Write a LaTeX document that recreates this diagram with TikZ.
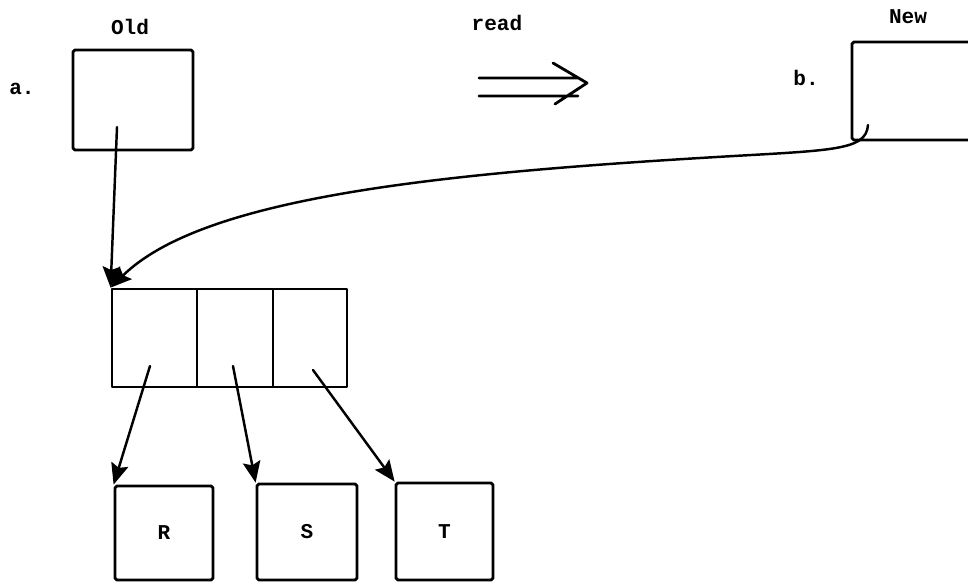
\documentclass[tikz,border=0pt]{standalone}
\usepackage{fontspec}
\setmonofont{Liberation Mono}
\usetikzlibrary{arrows.meta}
\begin{document}
\begin{tikzpicture}[x=0.02cm,y=-0.02cm,
  box/.style={draw,line width=1.6pt,inner sep=0pt,rounded corners=1pt},
  lbl/.style={font=\fontsize{12}{14}\selectfont\ttfamily\bfseries,inner sep=0pt},
  ptr/.style={line width=1.4pt,-{Stealth[length=12pt,width=10pt,inset=2pt]}},
  line join=round,line cap=round]
\useasboundingbox (0,0) rectangle (968,586);
\clip (0,0) rectangle (968,586);
% top boxes
\node[box,minimum width=2.4cm,minimum height=2.0cm] (old) at (133,100) {};
\node[box,minimum width=2.4cm,minimum height=1.96cm] (new) at (912,91) {};
\node[lbl] (oldl) at (130,27) {Old};
\node[lbl] (newl) at (908,17) {New};
\node[lbl] (al) at (22,89) {a.};
\node[lbl] (bl) at (806,78) {b.};
\node[lbl] (readl) at (497,23) {read};
% double arrow
\coordinate (d1) at (479,78);
\coordinate (d1e) at (578,78);
\coordinate (d2) at (479,96);
\coordinate (d2e) at (578,96);
\coordinate (ht) at (553,63);
\coordinate (hp) at (587,83);
\coordinate (hb) at (555,104);
\draw[line width=1.6pt] (d1) -- (d1e) (d2) -- (d2e) (ht) -- (hp) -- (hb);
% middle record
\node[box,rounded corners=0pt,minimum width=1.7cm,minimum height=1.96cm] (c1) at (154.5,338) {};
\node[box,rounded corners=0pt,minimum width=1.52cm,minimum height=1.96cm] (c2) at (235,338) {};
\node[box,rounded corners=0pt,minimum width=1.48cm,minimum height=1.96cm] (c3) at (310,338) {};
% leaves
\node[box,lbl,minimum width=1.96cm,minimum height=1.88cm] (r) at (164,533) {R};
\node[box,lbl,minimum width=2.0cm,minimum height=1.92cm] (s) at (307,532) {S};
\node[box,lbl,minimum width=1.94cm,minimum height=1.94cm] (t) at (444.5,531.5) {T};
% pointer sources
\coordinate (po) at (117,127);
\coordinate (pn) at (868,125);
\coordinate (p1) at (150,366);
\coordinate (p2) at (233,366);
\coordinate (p3) at (313,370);
% pointers
\draw[ptr] (po) -- (c1.north west);
\draw[ptr] (pn) .. controls (866,152) and (830,150) .. (700,158)
   .. controls (420,175) and (200,200) .. (c1.north west);
\draw[ptr] (p1) -- (r.north west);
\draw[ptr] (p2) -- (s.north west);
\draw[ptr] (p3) -- (t.north west);
\end{tikzpicture}
\end{document}
